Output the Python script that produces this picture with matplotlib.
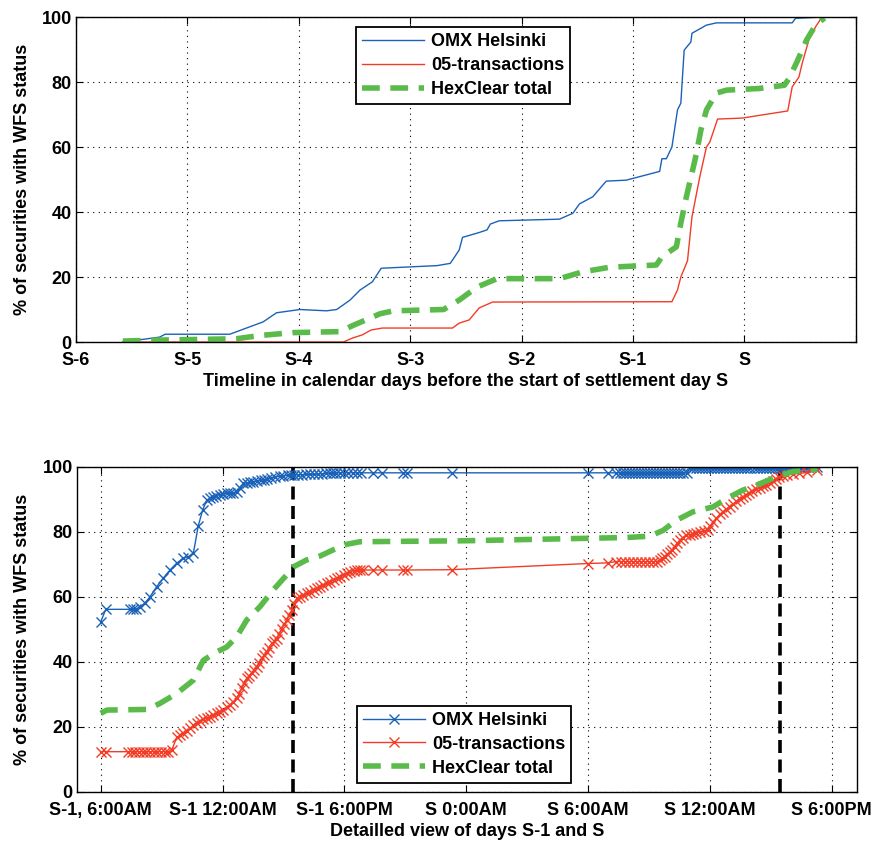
import matplotlib
matplotlib.use("Agg")
import matplotlib.pyplot as plt

plt.rcParams['font.family'] = ['Liberation Sans', 'DejaVu Sans']
plt.rcParams['font.size'] = 13
plt.rcParams['font.weight'] = 'bold'
plt.rcParams['axes.labelweight'] = 'bold'

# ---- top panel: days relative to start of settlement day S ----
top_ticks = [-6, -5, -4, -3, -2, -1, 0]
top_labels = ["S-6", "S-5", "S-4", "S-3", "S-2", "S-1", "S"]

omx_day = [-5.58, -5.25, -5.2, -4.62, -4.47, -4.32, -4.2, -3.99, -3.75, -3.66, -3.54,
           -3.45, -3.34, -3.26, -2.76, -2.64, -2.56, -2.53, -2.38, -2.31, -2.28, -2.2,
           -1.66, -1.54, -1.48, -1.36, -1.24, -1.06, -0.76, -0.74, -0.7, -0.65, -0.6,
           -0.57, -0.54, -0.48, -0.47, -0.34, -0.25, 0.43, 0.46, 0.7, 0.75]
omx_pct = [0, 1.5, 2.4, 2.4, 4.3, 6.2, 9, 10, 9.6, 10, 12.9,
           16, 18.5, 22.7, 23.5, 24.2, 28.3, 32.2, 33.7, 34.5, 36.3, 37.3,
           37.8, 39.6, 42.5, 44.7, 49.5, 49.8, 52.5, 56.4, 56.4, 60, 71.4,
           73.5, 89.8, 92.3, 95, 97.5, 98.2, 98.2, 99.6, 100, 100]

tr_day = [-5.58, -3.6, -3.52, -3.43, -3.35, -3.25, -2.62, -2.56, -2.47, -2.38, -2.26,
          -0.65, -0.6, -0.57, -0.51, -0.47, -0.4, -0.34, -0.31, -0.24, -0.02, 0.39,
          0.43, 0.49, 0.52, 0.58, 0.64, 0.69, 0.72]
tr_pct = [0, 0, 1.2, 2.2, 3.7, 4.3, 4.3, 5.8, 6.8, 10.5, 12.3,
          12.4, 16, 20, 25, 38.5, 50.8, 60, 61.5, 68.6, 68.9, 71.1,
          78.5, 81.5, 85.8, 93, 97, 99.6, 100]

hex_day = [-5.58, -5.25, -4.56, -4.35, -4.05, -3.63, -3.52, -3.27, -3.15, -2.7, -2.56,
           -2.4, -2.22, -1.66, -1.45, -1.21, -0.79, -0.74, -0.61, -0.57, -0.52, -0.47,
           -0.43, -0.39, -0.34, -0.25, -0.16, 0.13, 0.36, 0.4, 0.47, 0.56, 0.64, 0.72]
hex_pct = [0.3, 0.6, 1, 2, 2.9, 3.2, 5, 8.7, 9.6, 10, 12.9,
           16.9, 19.5, 19.5, 21.6, 23, 23.7, 26.2, 29.3, 36.6, 44.7, 52,
           58, 65.2, 71.4, 76.6, 77.5, 78, 79, 81, 86, 93, 97.5, 99.7]

# ---- bottom panel: hours since start of day S-1 ----
bot_ticks = [6, 12, 18, 24, 30, 36, 42]
bot_labels = ["S-1, 6:00AM", "S-1 12:00AM", "S-1 6:00PM", "S 0:00AM",
              "S 6:00AM", "S 12:00AM", "S 6:00PM"]
cutoffs = [15.48, 39.47]

omx_h = [6.0, 6.25, 7.45, 7.6, 7.75, 7.95, 8.18, 8.43, 8.76, 9.08, 9.41, 9.74, 10.07,
         10.31, 10.56, 10.8, 11.02, 11.22, 11.4, 11.55, 11.7, 11.85, 12.03, 12.2, 12.35,
         12.5, 12.69, 12.85, 13.02, 13.2, 13.35, 13.5, 13.7, 13.9, 14.05, 14.2, 14.4,
         14.6, 14.82, 15.0, 15.2, 15.35, 15.5, 15.7, 15.9, 16.1, 16.3, 16.5, 16.7, 16.9,
         17.1, 17.3, 17.45, 17.6, 17.8, 18.0, 18.2, 18.4, 18.6, 18.8, 19.4, 19.85, 20.88,
         21.08, 23.29, 30.0, 30.97, 31.4, 31.55, 31.7, 31.85, 32.0, 32.15, 32.3, 32.45,
         32.6, 32.75, 32.9, 33.05, 33.2, 33.35, 33.5, 33.65, 33.8, 33.95, 34.1, 34.25,
         34.4, 34.55, 34.7, 34.85, 35.0, 35.15, 35.3, 35.45, 35.6, 35.75, 35.9, 36.05,
         36.2, 36.35, 36.5, 36.65, 36.8, 36.95, 37.1, 37.25, 37.4, 37.55, 37.7, 37.85,
         38.0, 38.15, 38.3, 38.45, 38.6, 38.75, 38.9, 39.05, 39.2, 39.35, 39.5, 39.65,
         39.8, 39.95, 40.1, 40.25, 40.4, 40.55, 40.7, 40.85, 41.0, 41.15, 41.3]
omx_hpct = [52.4, 56.2, 56.2, 56.2, 56.3, 57.0, 58.1, 60.1, 63.2, 65.8, 68.3, 70.4, 71.9,
            72.4, 73.4, 81.8, 86.8, 89.8, 90.5, 90.8, 91.2, 91.5, 91.8, 91.9, 91.9,
            92.0, 92.2, 93.5, 95.0, 95.2, 95.3, 95.4, 95.7, 95.9, 96.1, 96.3, 96.6,
            96.9, 97.2, 97.3, 97.4, 97.5, 97.5, 97.6, 97.6, 97.7, 97.7, 97.8, 97.8, 97.9,
            98.0, 98.1, 98.2, 98.2, 98.2, 98.2, 98.2, 98.2, 98.2, 98.2, 98.2, 98.2, 98.2,
            98.2, 98.2, 98.2, 98.2, 98.2, 98.2, 98.2, 98.2, 98.2, 98.2, 98.2, 98.2,
            98.2, 98.2, 98.2, 98.2, 98.2, 98.2, 98.2, 98.2, 98.2, 98.2, 98.2, 98.2,
            98.2, 98.2, 98.2, 98.2, 99.6, 99.6, 99.6, 99.6, 99.6, 99.6, 99.6, 99.6,
            99.6, 99.6, 99.6, 99.6, 99.6, 99.6, 99.6, 99.6, 99.7, 99.7, 99.7, 99.7,
            99.7, 99.7, 99.7, 99.7, 99.7, 99.7, 99.7, 99.8, 99.8, 99.8, 99.8, 99.8,
            99.8, 99.8, 99.9, 99.9, 99.9, 99.9, 99.9, 100, 100, 100, 100]

tr_h = [6.0, 6.25, 7.35, 7.53, 7.71, 7.89, 8.07, 8.25, 8.43, 8.61, 8.79, 8.97, 9.15,
        9.33, 9.5, 9.74, 9.9, 10.07, 10.25, 10.4, 10.56, 10.72, 10.88, 11.05, 11.22,
        11.38, 11.55, 11.71, 11.87, 12.03, 12.2, 12.36, 12.52, 12.69, 12.82, 12.94,
        13.07, 13.19, 13.31, 13.43, 13.55, 13.68, 13.8, 13.92, 14.05, 14.17, 14.3,
        14.42, 14.55, 14.67, 14.79, 14.91, 15.04, 15.16, 15.28, 15.41, 15.53, 15.65,
        15.82, 15.98, 16.15, 16.31, 16.48, 16.64, 16.8, 16.97, 17.14, 17.3, 17.47,
        17.63, 17.8, 17.96, 18.12, 18.28, 18.45, 18.6, 18.75, 18.9, 19.4, 19.85,
        20.88, 21.08, 23.29, 30.0, 30.97, 31.4, 31.6, 31.8, 32.0, 32.2, 32.4, 32.6,
        32.8, 33.0, 33.2, 33.4, 33.53, 33.65, 33.78, 33.9, 34.02, 34.15, 34.27, 34.4,
        34.52, 34.68, 34.84, 35.0, 35.17, 35.33, 35.5, 35.7, 35.9, 36.02, 36.15,
        36.32, 36.5, 36.65, 36.8, 36.97, 37.14, 37.3, 37.47, 37.63, 37.8, 37.95,
        38.1, 38.28, 38.45, 38.6, 38.78, 38.95, 39.1, 39.25, 39.4, 39.6, 39.8, 40.1,
        40.4, 40.8, 41.3]
tr_hpct = [12.4, 12.4, 12.4, 12.4, 12.4, 12.4, 12.4, 12.4, 12.4, 12.4, 12.4, 12.4, 12.4,
           12.4, 12.9, 16.8, 17.4, 18.0, 18.8, 19.6, 20.5, 21.3, 21.8, 22.4, 22.8,
           23.2, 23.7, 24.2, 24.7, 25.2, 26.0, 26.8, 27.8, 28.8, 30.3, 31.9,
           33.5, 35.0, 35.8, 36.7, 37.6, 38.6, 39.8, 41.1, 42.1, 43.2, 44.4,
           45.7, 46.4, 47.2, 48.7, 50.3, 51.6, 52.9, 54.4, 56.0, 57.8, 59.6,
           60.1, 60.6, 61.1, 61.6, 62.1, 62.7, 63.2, 63.7, 64.2, 64.7, 65.3,
           65.8, 66.3, 66.8, 67.3, 67.8, 68.1, 68.3, 68.3, 68.3, 68.3, 68.3,
           68.3, 68.3, 68.4, 70.3, 70.5, 70.9, 70.9, 70.9, 70.9, 70.9, 70.9, 70.9,
           70.9, 70.9, 70.9, 70.9, 71.4, 71.9, 72.4, 73.1, 73.8, 74.6, 75.4, 76.5,
           77.6, 78.3, 79.0, 79.2, 79.5, 79.7, 80.0, 80.2, 80.5, 81.7, 83.0,
           84.2, 85.5, 86.2, 87.0, 87.8, 88.6, 89.4, 90.2, 90.8, 91.5, 92.0,
           92.6, 93.1, 93.6, 94.1, 94.6, 95.2, 95.8, 96.4, 97.0, 97.3, 97.6, 97.8,
           98.0, 98.3, 99.2]

hex_h = [6.0, 6.3, 8.26, 8.9, 9.74, 10.56, 11.05, 11.71, 12.2, 12.69, 13.19, 13.84,
         14.5, 15.16, 15.5, 16.14, 16.8, 17.45, 18.1, 18.77, 24.0, 31.9, 33.04, 33.7,
         34.35, 35.17, 36.15, 36.8, 37.6, 38.45, 39.27, 40.1, 41.3]
hex_hpct = [24.2, 25.2, 25.4, 27.2, 30.3, 34.4, 40.5, 43.1, 44.6, 47.7, 52.9, 57.0,
            62.2, 66.8, 69.3, 71.4, 72.6, 74.5, 76.2, 77.0, 77.3, 78.3, 78.7, 80.5,
            83.6, 86.2, 87.7, 90.2, 92.8, 94.8, 97.0, 98.6, 99.3]

BLUE = '#1a62b8'
RED = '#f23c26'
GREEN = '#5abb4a'
names = ["OMX Helsinki", "05-transactions", "HexClear total"]


def style_axes(ax):
    ax.set_ylim(0, 100)
    ax.set_yticks([0, 20, 40, 60, 80, 100])
    ax.grid(True, color='black', linestyle=(0, (1, 4)), linewidth=0.8)
    ax.tick_params(direction='in', top=True, right=True, length=5, width=0.8,
                   labelsize=13, pad=3)
    ax.tick_params(axis='x', pad=7)
    for s in ax.spines.values():
        s.set_linewidth(1.0)
    ax.set_ylabel("% of securities with WFS status", fontsize=13, labelpad=8)


def add_legend(ax, loc, anchor):
    leg = ax.legend(loc=loc, bbox_to_anchor=anchor, fontsize=13,
                    fancybox=False, framealpha=1, edgecolor='black',
                    handlelength=3.4, borderaxespad=0, labelspacing=0.38,
                    handletextpad=0.4, borderpad=0.35)
    leg.get_frame().set_linewidth(1.3)
    return leg


fig = plt.figure(figsize=(8.77, 8.42), dpi=100)
ax1 = fig.add_axes([0.0867, 0.5938, 0.889, 0.386])
ax2 = fig.add_axes([0.0878, 0.0594, 0.889, 0.386])

# top
ax1.plot(omx_day, omx_pct, color=BLUE, lw=1.0, label=names[0])
ax1.plot(tr_day, tr_pct, color=RED, lw=1.0, label=names[1])
ax1.plot(hex_day, hex_pct, color=GREEN, lw=4, dashes=(3.2, 1.9), label=names[2])
ax1.set_xlim(-6, 1)
ax1.set_xticks(top_ticks + [1])
ax1.set_xticklabels(top_labels + [""])
ax1.set_xlabel("Timeline in calendar days before the start of settlement day S",
               fontsize=13, labelpad=3)
style_axes(ax1)
add_legend(ax1, 'upper left', (0.359, 0.969))

# bottom
ax2.plot(omx_h, omx_hpct, color=BLUE, lw=1.0, marker='x', ms=7, mew=1.0,
         label=names[0])
ax2.plot(tr_h, tr_hpct, color=RED, lw=1.0, marker='x', ms=7, mew=1.0,
         label=names[1])
ax2.plot(hex_h, hex_hpct, color=GREEN, lw=4, dashes=(3.2, 1.9), label=names[2])
for c in cutoffs:
    ax2.axvline(c, color='black', lw=2.6, dashes=(3.6, 1.8), zorder=1)
ax2.set_xlim(4.83, 43.23)
ax2.set_xticks(bot_ticks)
ax2.set_xticklabels(bot_labels)
ax2.set_xlabel("Detailled view of days S-1 and S", fontsize=13, labelpad=3)
style_axes(ax2)
add_legend(ax2, 'lower left', (0.359, 0.028))

fig.savefig("out.png", dpi=100)
